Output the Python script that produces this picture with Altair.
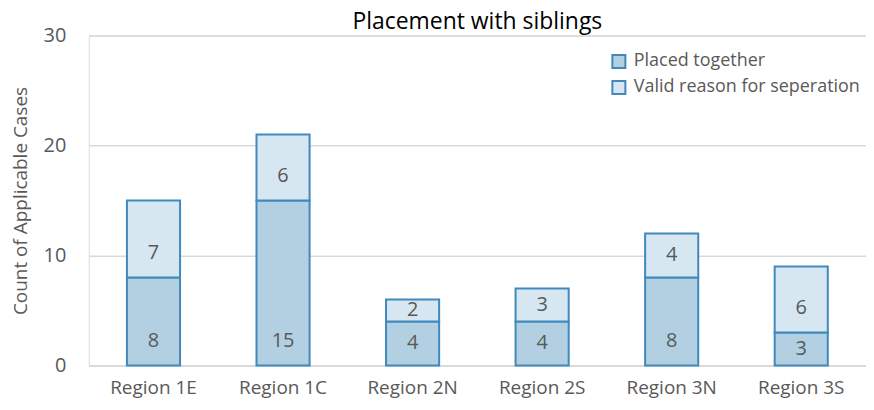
import altair as alt
import pandas as pd

regions = ["Region 1E", "Region 1C", "Region 2N", "Region 2S", "Region 3N", "Region 3S"]
series = ["Placed together", "Valid reason for seperation"]
placed = [8, 15, 4, 4, 8, 3]
valid = [7, 6, 2, 3, 4, 6]

rows = []
for i, r in enumerate(regions):
    rows.append({"region": r, "series": series[0], "value": placed[i], "order": 0})
    rows.append({"region": r, "series": series[1], "value": valid[i], "order": 1})
df = pd.DataFrame(rows)

FONT = "Open Sans"
GRAY = "#595959"

base = alt.Chart(df).transform_stack(
    stack="value", as_=["y0", "y1"], groupby=["region"], sort=[alt.SortField("order")]
)

x = alt.X("region:N", sort=regions, title=None,
          scale=alt.Scale(paddingInner=0.59, paddingOuter=0.295),
          axis=alt.Axis(labelAngle=0, labelFontSize=19, labelColor=GRAY, labelFont=FONT,
                        domain=True, domainColor="#d9d9d9", domainWidth=1.5, ticks=False,
                        labelPadding=13))

bars = base.mark_bar(stroke="#4189bd", strokeWidth=2).encode(
    x=x,
    y=alt.Y("y0:Q", title="Count of Applicable Cases",
            scale=alt.Scale(domain=[0, 30]),
            axis=alt.Axis(values=[0, 10, 20, 30], domain=False, ticks=False,
                          gridColor="#d9d9d9", gridWidth=1.5,
                          labelFontSize=20, labelColor=GRAY, labelFont=FONT, labelPadding=23,
                          titleFontSize=19, titleColor=GRAY, titleFont=FONT,
                          titleFontWeight="normal", titlePadding=13)),
    y2="y1:Q",
    color=alt.Color("series:N", sort=series,
                    scale=alt.Scale(domain=series, range=["#b2d0e2", "#d6e7f1"]),
                    legend=alt.Legend(title=None, orient="none", legendX=523, legendY=17,
                                      symbolType="square", symbolSize=170,
                                      symbolStrokeColor="#4189bd", symbolStrokeWidth=2,
                                      labelFontSize=18, labelColor=GRAY, labelFont=FONT,
                                      labelLimit=0, rowPadding=4, labelOffset=6)),
)

labels = base.transform_calculate(
    ypos="datum.y0 + min(2.25, datum.value / 2)"
).mark_text(fontSize=20, color=GRAY, font=FONT, baseline="middle").encode(
    x=alt.X("region:N", sort=regions),
    y=alt.Y("ypos:Q"),
    text="value:Q",
)

chart = alt.layer(bars, labels).properties(
    width=780, height=331,
    padding={"left": 3, "top": 2, "right": 0, "bottom": 5},
    title=alt.TitleParams("Placement with siblings", fontSize=23, font=FONT,
                          fontWeight="normal", color="#000000", offset=-8, anchor="middle"),
).configure_view(strokeWidth=0).configure(background="white")

chart.save("out.html", embed_options={"renderer": "svg", "actions": False})
